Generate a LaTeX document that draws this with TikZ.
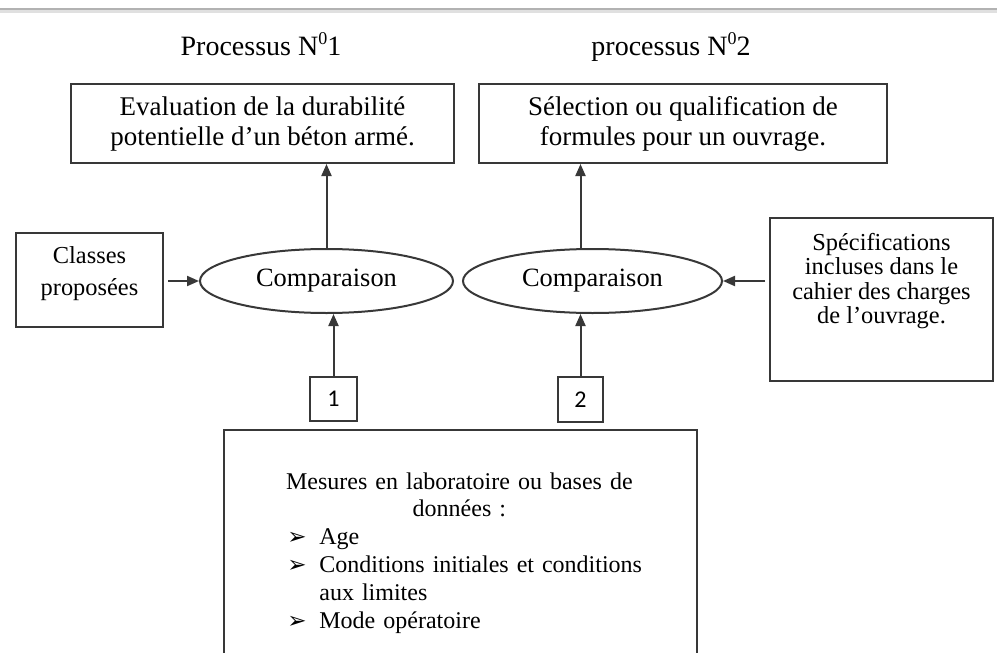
\documentclass[tikz,border=0pt]{standalone}
\usepackage{fontspec}
\setmainfont{Liberation Serif}
\newfontfamily\numfont{Carlito}
\newfontfamily\symfont{DejaVu Sans}
\usetikzlibrary{shapes.geometric,arrows.meta}
\tikzset{
  line/.style={draw=black!78, line width=1pt},
  box/.style={line, rectangle, inner sep=0pt, align=center},
  bigfont/.style={font=\fontsize{13.5}{15}\selectfont},
  smallfont/.style={font=\fontsize{12.2}{12.2}\selectfont},
  oval/.style={line, ellipse, inner sep=0pt, font=\fontsize{13.2}{15}\selectfont},
  title/.style={font=\fontsize{14}{16}\selectfont, inner sep=0pt, anchor=base},
  numbox/.style={box, font=\numfont\fontsize{12}{13}\selectfont},
  arr/.style={line, -{Triangle[length=6pt,width=5pt]}},
}
\newcommand{\bul}{\makebox[16pt][l]{\symfont\fontsize{11.5}{12}\selectfont ➢}}
\newcommand{\supz}{\raisebox{5.5pt}{\fontsize{9}{9}\selectfont 0}}
\begin{document}
\begin{tikzpicture}[x=0.5pt,y=-0.5pt]
\useasboundingbox (0,0) rectangle (997,653);
\clip (0,0) rectangle (997,653);
\fill[white] (0,0) rectangle (997,653);
\fill[black!30] (0,8) rectangle (997,10);
\fill[black!12] (0,10) rectangle (997,13);

% titles
\node[title] (t1) at (261,55) {Processus N\supz1};
\node[title] (t2) at (671,55) {processus N\supz2};

% top boxes
\node[box, bigfont, minimum width=191.5pt, minimum height=39.5pt] (b1) at (262.5,123.5)
  {Evaluation de la durabilité\\ potentielle d’un béton armé.};
\node[box, bigfont, minimum width=204pt, minimum height=39.5pt] (b2) at (683,123.5)
  {Sélection ou qualification de\\ formules pour un ouvrage.};

% left and right boxes
\node[box, minimum width=73.5pt, minimum height=47pt] (cl) at (89.5,280) {};
\node[inner sep=0pt, align=center, font=\fontsize{12.2}{16}\selectfont] (cltxt) at (89.5,274)
  {Classes\\ proposées};
\node[box, minimum width=111.5pt, minimum height=81.5pt] (sp) at (881.5,299.5) {};
\node[inner sep=0pt, align=center, smallfont] (sptxt) at (881.5,281)
  {Spécifications\\ incluses dans le\\ cahier des charges\\ de l’ouvrage.};

% ellipses
\node[oval, minimum width=126.5pt, minimum height=32pt] (e1) at (326.5,281) {Comparaison};
\node[oval, minimum width=129.5pt, minimum height=32pt] (e2) at (592.5,281) {Comparaison};

% numbered boxes
\node[numbox, minimum width=23.5pt, minimum height=22pt] (s1) at (333.5,399) {1};
\node[numbox, minimum width=22.5pt, minimum height=22.5pt] (s2) at (580.5,399.5) {2};

% big box (cut by the page bottom)
\node[box, anchor=north west, minimum width=236.5pt, minimum height=150pt] (big) at (223,429) {};
\node[anchor=north west, inner sep=0pt, text width=200pt, align=left, font=\fontsize{12}{13.9}\selectfont] (bigtxt) at (287,472)
  {\makebox[172pt][c]{Mesures en laboratoire ou bases de}\\
   \makebox[172pt][c]{données :}\\
   \bul Age\\
   \bul Conditions initiales et conditions\\
   \hspace*{16pt}aux limites\\
   \bul Mode opératoire};

% connectors
\draw[arr] ([xshift=2pt]cl.east |- e1.west) -- (e1.west);
\draw[arr] ([xshift=-2pt]sp.west |- e2.east) -- (e2.east);
\draw[arr] (e1.north) -- (e1.north |- b1.south);
\draw[arr] (e2.north -| s2.north) -- (s2.north |- b2.south);
\draw[arr] (s1.north) -- (s1.north |- e1.south);
\draw[arr] (s2.north) -- (s2.north |- e2.south);
\end{tikzpicture}
\end{document}
